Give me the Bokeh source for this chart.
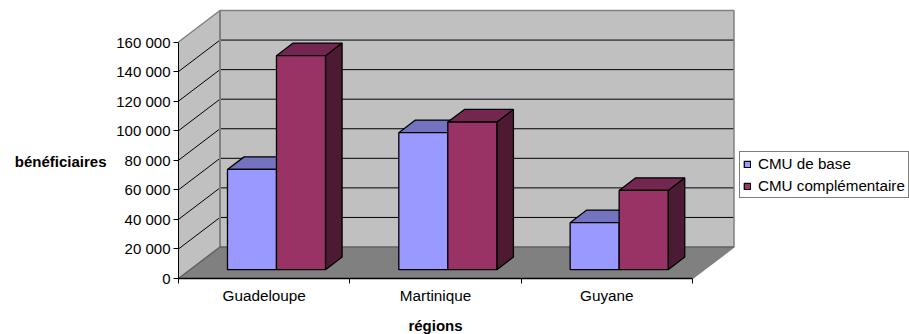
from bokeh.plotting import figure
from bokeh.models import Range1d, FixedTicker, Label, Legend, LegendItem, LinearAxis
from bokeh.embed import file_html
from bokeh.resources import INLINE

categories = ["Guadeloupe", "Martinique", "Guyane"]
cmu_base = [67800, 92700, 31800]
cmu_comp = [144800, 99900, 53600]
y_ticks = [0, 20000, 40000, 60000, 80000, 100000, 120000, 140000, 160000]
y_labels = ["0", "20 000", "40 000", "60 000", "80 000", "100 000", "120 000", "140 000", "160 000"]
series_names = ["CMU de base", "CMU complémentaire"]
x_title = "régions"
y_title = "bénéficiaires"

# layout in page pixels: the frame fills the canvas, the axes sit at fixed locations in it
W, H = 909, 334
AX_L, AX_B, CAT_W = 178, 278, 171.33
Y_SCALE = 236.5 / 160000
DX = 41.5 / CAT_W            # depth of the box in x units
DY = 31.5 / Y_SCALE          # depth of the box in y units
F1, F2 = 0.28, 0.68          # front/back plane of the bars, as a share of depth
BAR_SHIFT = 0.7 / CAT_W
BAR_W = 49 / CAT_W
FONT = "Liberation Sans"
FS = "15px"
FS_X = "15.3px"
FS_LEG = "15.2px"

p = figure(width=W, height=H, output_backend="svg", toolbar_location=None,
           x_range=Range1d(-AX_L / CAT_W, (W - AX_L) / CAT_W),
           y_range=Range1d(-(H - AX_B) / Y_SCALE, AX_B / Y_SCALE),
           min_border_left=0, min_border_top=0, min_border_right=0, min_border_bottom=0,
           x_axis_type=None, y_axis_type=None)
p.outline_line_color = None
p.grid.visible = False

top = y_ticks[-1]
n = len(categories)

# floor, side wall, back wall
p.patch([0, n, n + DX, DX], [0, 0, DY, DY], fill_color="#808080", line_color=None)
p.patch([0, DX, DX, 0], [0, DY, top + DY, top], fill_color="#C0C0C0", line_color=None)
p.quad(left=[DX], right=[n + DX], bottom=[DY], top=[top + DY], fill_color="#C0C0C0", line_color=None)

# gridlines
for v in y_ticks[1:-1]:
    p.line([0, DX, n + DX], [v, v + DY, v + DY], line_color="black", line_width=1)
# wall frames
p.line([0, DX, n + DX, n + DX, n], [top, top + DY, top + DY, DY, 0], line_color="#808080", line_width=1.5)
p.line([DX, DX], [DY, top + DY], line_color="#808080", line_width=2)
p.line([0, DX, n + DX], [0, DY, DY], line_color="#606060", line_width=1.5)

face_colors = ["#9999FF", "#993366"]
top_colors = ["#7373BF", "#732650"]
side_colors = ["#4D4D80", "#4D1A33"]
x1, y1 = DX * F1 + BAR_SHIFT, DY * F1
x2, y2 = DX * F2 + BAR_SHIFT, DY * F2
renderers = [None, None]
for i in range(n):
    for s, vals in enumerate([cmu_base, cmu_comp]):
        v = vals[i]
        l = i + 0.5 - BAR_W + s * BAR_W + x1
        r = l + BAR_W
        b = y1
        t = y1 + v
        ddx, ddy = x2 - x1, y2 - y1
        p.patch([r, r + ddx, r + ddx, r], [b, b + ddy, t + ddy, t], fill_color=side_colors[s],
                line_color="black", line_width=1.3)
        p.patch([l, l + ddx, r + ddx, r], [t, t + ddy, t + ddy, t], fill_color=top_colors[s],
                line_color="black", line_width=1.3)
        renderers[s] = p.quad(left=[l], right=[r], bottom=[b], top=[t], fill_color=face_colors[s],
                              line_color="black", line_width=1.3)

# axes
yax = LinearAxis(fixed_location=0, ticker=FixedTicker(ticks=y_ticks), bounds=(0, top),
                 major_label_overrides=dict(zip(y_ticks, y_labels)),
                 major_tick_out=5, major_tick_in=0, minor_tick_out=0, minor_tick_in=0,
                 major_label_standoff=3, axis_line_color="black", major_tick_line_color="black",
                 major_label_text_font=FONT, major_label_text_font_size=FS, major_label_text_color="black")
p.add_layout(yax, "left")
mids = [i + 0.5 for i in range(n)]
xax = LinearAxis(fixed_location=0, ticker=FixedTicker(ticks=mids, minor_ticks=list(range(n + 1))), bounds=(0, n),
                 major_label_overrides=dict(zip(mids, categories)),
                 major_tick_out=0, major_tick_in=0, minor_tick_out=5, minor_tick_in=0,
                 major_label_standoff=3, axis_line_color="black", axis_line_width=1.5,
                 major_label_text_font=FONT, major_label_text_font_size=FS_X, major_label_text_color="black")
p.add_layout(xax, "below")

p.add_layout(Label(x=1.5, y=(AX_B - 325) / Y_SCALE, text=x_title, text_align="center", text_baseline="middle",
                   text_font=FONT, text_font_size=FS, text_font_style="bold", text_color="black"))
p.add_layout(Label(x=(106 - AX_L) / CAT_W, y=(AX_B - 161) / Y_SCALE, text=y_title, text_align="right",
                   text_baseline="middle", text_font=FONT, text_font_size=FS, text_font_style="bold",
                   text_color="black"))

legend = Legend(items=[LegendItem(label=series_names[s], renderers=[renderers[s]]) for s in range(2)],
                location=(739, 136), margin=0, padding=3, spacing=5, glyph_width=8, glyph_height=8,
                label_standoff=7, label_height=16, label_text_font=FONT, label_text_font_size=FS_LEG,
                label_text_color="black", border_line_color="black", border_line_width=1,
                background_fill_color="white", background_fill_alpha=1)
p.add_layout(legend, "center")

open("out.html", "w").write(file_html(p, INLINE))
